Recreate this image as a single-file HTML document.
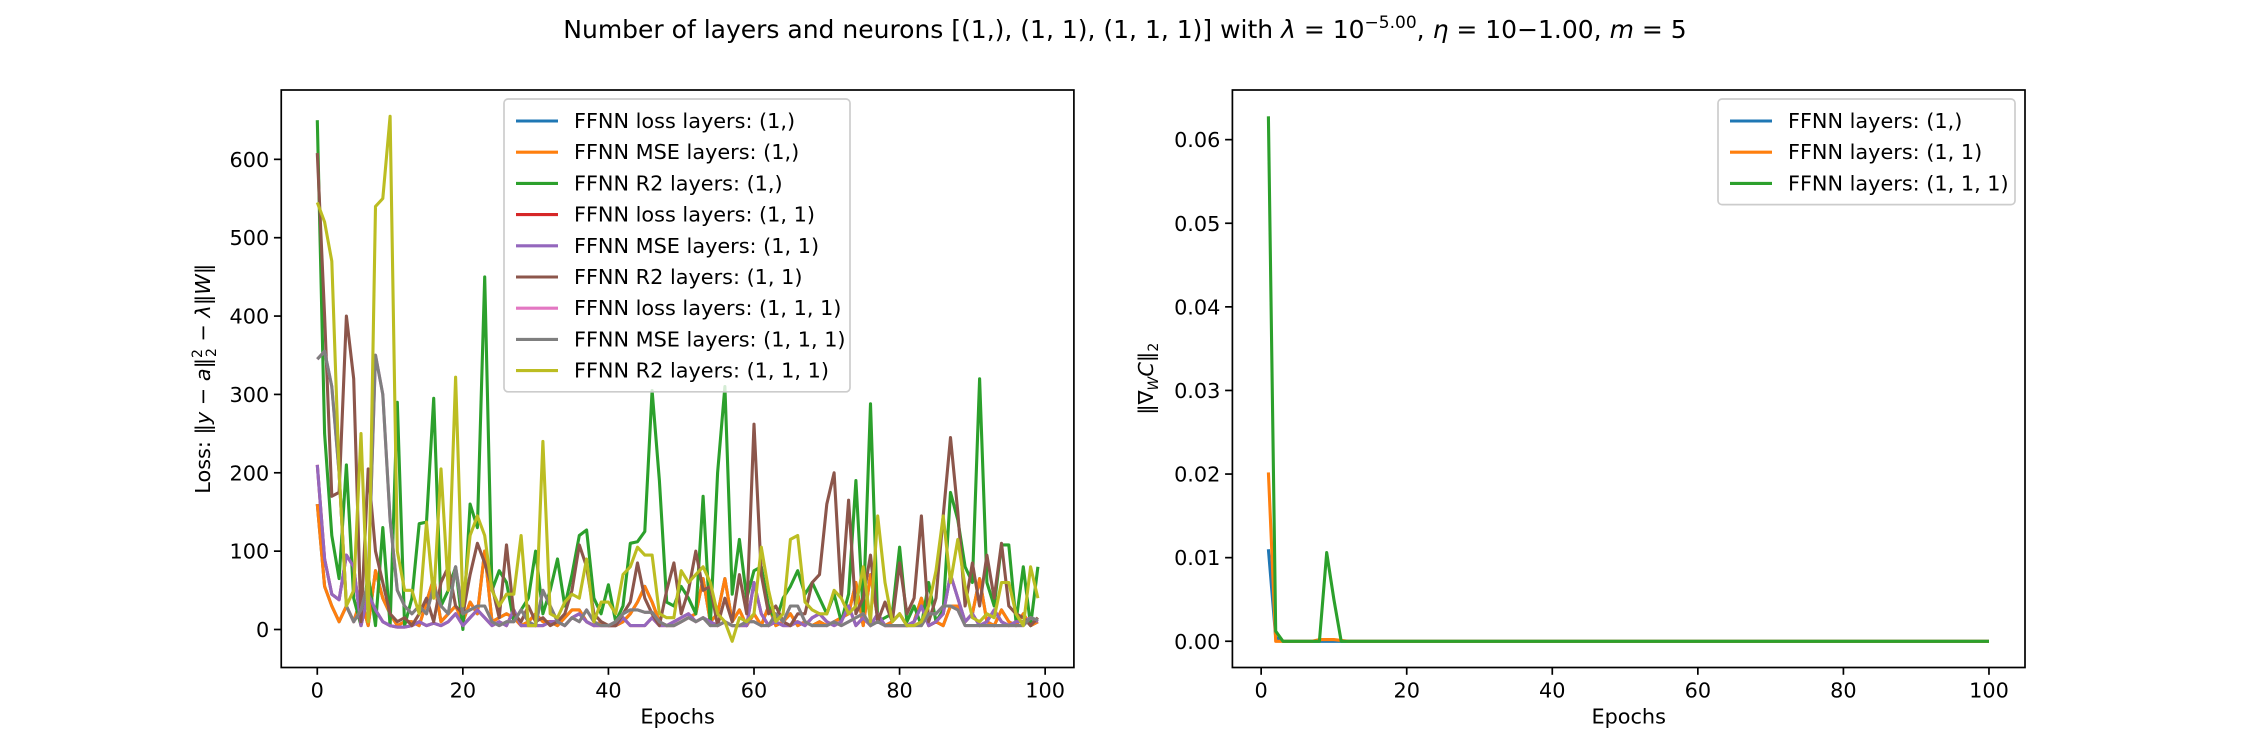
<!DOCTYPE html>
<html><head><meta charset="utf-8"><style>
html,body{margin:0;padding:0;background:#fff;}
svg{display:block;font-family:"DejaVu Sans","Liberation Sans",sans-serif;}
</style></head><body>
<svg id="chart" width="2250" height="750" viewBox="0 0 2250 750">
<text x="1125" y="38" text-anchor="middle" font-size="25">Number of layers and neurons [(1,), (1, 1), (1, 1, 1)] with <tspan font-style="italic">λ</tspan> = 10<tspan dy="-10" font-size="17">−5.00</tspan><tspan dy="10">, </tspan><tspan font-style="italic">η</tspan> = 10−1.00, <tspan font-style="italic">m</tspan> = 5</text>
<g id="left"></g>
<g id="right"></g>
</svg>
<script>
const epochsLeft = Array.from({length:100},(_,i)=>i);
const epochsRight = Array.from({length:100},(_,i)=>i+1);
const mse1 = [160,55,30,10,30,10,40,5,75,40,20,5,10,10,5,35,65,10,20,30,10,35,20,100,10,15,20,15,5,10,20,10,10,5,15,25,25,10,5,10,5,5,10,20,35,55,35,10,5,5,10,15,20,65,10,20,65,10,25,5,20,5,30,5,10,20,5,10,5,10,5,10,15,20,60,5,70,15,5,10,20,5,10,40,5,10,5,30,30,10,20,65,10,5,25,10,5,20,5,10];
const r2_1 = [650,250,120,65,210,40,5,70,5,130,5,290,5,40,135,137,295,30,50,80,0,160,130,450,50,75,60,10,25,40,100,20,50,90,30,70,120,127,40,20,57,10,30,110,112,125,305,190,35,30,55,40,20,170,5,200,310,45,115,40,75,80,30,10,40,55,75,45,60,40,20,45,10,45,190,20,288,10,15,20,105,10,30,5,60,10,25,175,140,80,60,320,60,30,108,108,10,80,5,80];
const mse2 = [210,90,45,38,95,80,5,45,25,10,5,3,3,5,10,5,8,5,10,20,5,15,25,15,5,10,5,25,5,5,5,5,10,10,5,15,20,10,5,5,5,5,15,5,5,5,15,5,5,10,15,20,10,15,10,5,10,5,5,5,60,20,5,10,5,5,10,5,15,20,10,5,10,30,5,15,5,20,5,5,5,5,10,30,5,10,20,70,40,10,20,5,10,25,10,5,10,10,15,10];
const r2_2 = [608,400,170,175,400,320,10,205,100,60,20,10,15,5,20,40,10,60,80,30,20,70,110,85,55,15,108,20,10,30,10,15,5,10,20,50,108,80,20,10,5,5,20,35,85,40,20,5,50,85,20,50,100,50,55,5,40,10,70,20,262,70,20,30,10,5,20,20,60,70,160,200,40,165,20,40,95,10,35,10,85,20,40,145,10,40,145,245,150,30,85,30,95,40,110,30,20,15,5,15];
const mse3 = [345,355,310,200,30,10,25,60,350,300,140,50,30,20,30,20,55,30,20,80,20,25,30,30,10,5,10,10,25,10,5,50,30,10,5,15,10,25,10,5,5,10,20,25,25,22,22,10,5,5,10,15,10,15,5,5,10,5,5,10,10,5,5,20,10,30,30,10,5,5,5,10,5,10,15,20,5,10,5,5,5,5,5,5,20,20,30,30,25,5,5,5,5,5,5,5,5,5,15,12];
const r2_3 = [545,520,470,200,30,50,250,10,540,550,655,100,50,50,20,137,40,205,50,322,30,120,145,120,50,30,45,45,120,5,5,240,20,15,35,45,40,90,10,35,35,20,70,80,105,95,95,20,15,15,75,60,70,80,60,20,10,-15,15,10,20,105,50,10,20,115,120,35,25,20,20,50,40,20,30,80,10,145,60,10,20,5,5,10,30,75,145,60,115,55,15,10,20,15,60,60,20,5,80,40];
const grad1 = [0.011,0.0005,0,0,0,0,0,0,0,0,0,0,0,0,0,0,0,0,0,0,0,0,0,0,0,0,0,0,0,0,0,0,0,0,0,0,0,0,0,0,0,0,0,0,0,0,0,0,0,0,0,0,0,0,0,0,0,0,0,0,0,0,0,0,0,0,0,0,0,0,0,0,0,0,0,0,0,0,0,0,0,0,0,0,0,0,0,0,0,0,0,0,0,0,0,0,0,0,0,0];
const grad2 = [0.0202,0,0,0,0,0,0,0.0002,0.0002,0.0002,0.0001,0,0,0,0,0,0,0,0,0,0,0,0,0,0,0,0,0,0,0,0,0,0,0,0,0,0,0,0,0,0,0,0,0,0,0,0,0,0,0,0,0,0,0,0,0,0,0,0,0,0,0,0,0,0,0,0,0,0,0,0,0,0,0,0,0,0,0,0,0,0,0,0,0,0,0,0,0,0,0,0,0,0,0,0,0,0,0,0,0];
const grad3 = [0.0628,0.0012,0,0,0,0,0,0,0.0106,0.005,0,0,0,0,0,0,0,0,0,0,0,0,0,0,0,0,0,0,0,0,0,0,0,0,0,0,0,0,0,0,0,0,0,0,0,0,0,0,0,0,0,0,0,0,0,0,0,0,0,0,0,0,0,0,0,0,0,0,0,0,0,0,0,0,0,0,0,0,0,0,0,0,0,0,0,0,0,0,0,0,0,0,0,0,0,0,0,0,0,0];
const leftTicksX = [0,20,40,60,80,100];
const leftTicksY = [0,100,200,300,400,500,600];
const rightTicksX = [0,20,40,60,80,100];
const rightTicksY = [0,0.01,0.02,0.03,0.04,0.05,0.06];
const leftLabels = ["FFNN loss layers: (1,)","FFNN MSE layers: (1,)","FFNN R2 layers: (1,)","FFNN loss layers: (1, 1)","FFNN MSE layers: (1, 1)","FFNN R2 layers: (1, 1)","FFNN loss layers: (1, 1, 1)","FFNN MSE layers: (1, 1, 1)","FFNN R2 layers: (1, 1, 1)"];
const rightLabels = ["FFNN layers: (1,)","FFNN layers: (1, 1)","FFNN layers: (1, 1, 1)"];
const C = ["#1f77b4","#ff7f0e","#2ca02c","#d62728","#9467bd","#8c564b","#e377c2","#7f7f7f","#bcbd22"];
const NS="http://www.w3.org/2000/svg";
function mk(parent,tag,attrs,text){const e=document.createElementNS(NS,tag);for(const k in attrs)e.setAttribute(k,attrs[k]);if(text!==undefined)e.textContent=text;parent.appendChild(e);return e;}
function extent(arrs){let mn=Infinity,mx=-Infinity;arrs.forEach(a=>a.forEach(v=>{if(v<mn)mn=v;if(v>mx)mx=v;}));const m=(mx-mn)*0.05;return [mn-m,mx+m];}
function axes(g,box,xs,series,xt,yt,fmt,ylabel,labels,legendBox){
  const [x0,x1]=extent([xs]);const [y0,y1]=extent(series.map(s=>s.d));
  const X=v=>box.l+(v-x0)/(x1-x0)*(box.r-box.l);
  const Y=v=>box.b-(v-y0)/(y1-y0)*(box.b-box.t);
  const clipId='clip'+box.l;
  const cp=mk(g,'clipPath',{id:clipId});mk(cp,'rect',{x:box.l,y:box.t,width:box.r-box.l,height:box.b-box.t});
  const lg=mk(g,'g',{'clip-path':`url(#${clipId})`});
  
  
  series.forEach((s,i)=>{
    const p=mk(lg,'polyline',{points:s.d.map((v,j)=>X(xs[j]).toFixed(1)+','+Y(v).toFixed(1)).join(' '),fill:'none',stroke:s.c,'stroke-width':3.1,'stroke-linejoin':'round'});
    
    
  });
  const fr=mk(g,'rect',{x:box.l,y:box.t,width:box.r-box.l,height:box.b-box.t,fill:'none',stroke:'#000','stroke-width':1.7});
  
  
  xt.forEach(v=>{const x=X(v);mk(g,'line',{x1:x,x2:x,y1:box.b,y2:box.b+7.3,stroke:'#000','stroke-width':1.7});
    const t=mk(g,'text',{x:x,y:box.b+30,'text-anchor':'middle','font-size':20.8},String(v));
    
    });
  yt.forEach(v=>{const y=Y(v);mk(g,'line',{x1:box.l-7.3,x2:box.l,y1:y,y2:y,stroke:'#000','stroke-width':1.7});
    const t=mk(g,'text',{x:box.l-12,y:y+7.5,'text-anchor':'end','font-size':20.8},fmt(v));
    
    });
  const xl=mk(g,'text',{x:(box.l+box.r)/2,y:box.b+56,'text-anchor':'middle','font-size':20.8},'Epochs');
  
  
  const yl=mk(g,'text',{x:0,y:0,'text-anchor':'middle','font-size':20.8,transform:`translate(${box.yl},${(box.t+box.b)/2}) rotate(-90)`});
  yl.innerHTML=ylabel;
  
  
  const L=mk(g,'g',{});
  
  
  mk(L,'rect',{x:legendBox.x,y:legendBox.y,width:legendBox.w,height:labels.length*31.2+12,rx:4,fill:'#fff','fill-opacity':0.8,stroke:'#ccc','stroke-width':1.7});
  labels.forEach((lab,i)=>{const y=legendBox.y+22+i*31.2;
    const e=mk(L,'g',{});
    
    
    mk(e,'line',{x1:legendBox.x+12,x2:legendBox.x+54,y1:y,y2:y,stroke:labels.length===3?C[i]:C[i],'stroke-width':3.1});
    mk(e,'text',{x:legendBox.x+70,y:y+7,'font-size':20.8},lab);});
}
const leftSeries=[
 {n:'loss-1',c:C[0],d:mse1},{n:'mse-1',c:C[1],d:mse1},{n:'r2-1',c:C[2],d:r2_1},
 {n:'loss-11',c:C[3],d:mse2},{n:'mse-11',c:C[4],d:mse2},{n:'r2-11',c:C[5],d:r2_2},
 {n:'loss-111',c:C[6],d:mse3},{n:'mse-111',c:C[7],d:mse3},{n:'r2-111',c:C[8],d:r2_3}];
axes(document.getElementById('left'),{l:281.25,r:1073.9,t:90,b:667.5,yl:210},epochsLeft,leftSeries,leftTicksX,leftTicksY,v=>String(v),
 'Loss: ‖<tspan font-style="italic">y</tspan> − <tspan font-style="italic">a</tspan>‖<tspan font-size="14" dy="-8">2</tspan><tspan font-size="14" dx="-8" dy="14">2</tspan><tspan dy="-6"> − </tspan><tspan font-style="italic">λ</tspan>‖<tspan font-style="italic">W</tspan>‖',leftLabels,{x:504,y:99,w:346});
const rightSeries=[{n:'grad-1',c:C[0],d:grad1},{n:'grad-11',c:C[1],d:grad2},{n:'grad-111',c:C[2],d:grad3}];
axes(document.getElementById('right'),{l:1232.4,r:2025,t:90,b:667.5,yl:1153},epochsRight,rightSeries,rightTicksX,rightTicksY,v=>v.toFixed(2),
 '‖∇<tspan font-style="italic" font-size="14" dy="5">W</tspan><tspan font-style="italic" dy="-5">C</tspan>‖<tspan font-size="14" dy="5">2</tspan>',rightLabels,{x:1718,y:99,w:297});
</script>
</body></html>
